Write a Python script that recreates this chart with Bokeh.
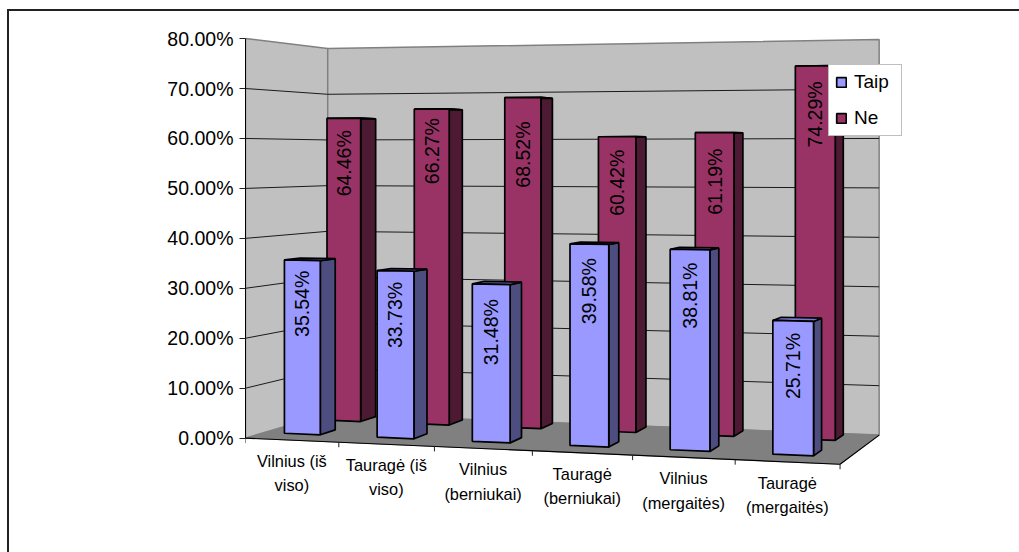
import numpy as np
from bokeh.plotting import figure
from bokeh.embed import file_html
from bokeh.resources import INLINE
from bokeh.core.properties import value
from bokeh.models import (FixedTicker, Legend, LegendItem,
                          LinearAxis, NumeralTickFormatter, Range1d)

# ---- data -------------------------------------------------------------
categories = ["Vilnius (iš\nviso)", "Tauragė (iš\nviso)", "Vilnius\n(berniukai)",
              "Tauragė\n(berniukai)", "Vilnius\n(mergaitės)", "Tauragė\n(mergaitės)"]
taip = [35.54, 33.73, 31.48, 39.58, 38.81, 25.71]
ne = [64.46, 66.27, 68.52, 60.42, 61.19, 74.29]
y_ticks = [0, 10, 20, 30, 40, 50, 60, 70, 80]
series_names = ["Taip", "Ne"]

FONT = "Liberation Sans"
N = len(categories)

# ---- 3D view: floor corners and height scales in page pixels -----------
FL, FR, BR, BL = (245, 436), (838, 462), (877, 433), (327, 412)
S_FL, S_FR, S_BR, S_BL = 4.975, 5.42, 4.925, 4.55
WARP_FRONT, WARP_DEPTH = 0.07, 0.047
PX_PER_PCT = 4.975
FRAME_L, FRAME_R, FRAME_T, FRAME_B = 245, 1011, 20, 530
PAGE_L, PAGE_T, PAGE_W, PAGE_H = 9, 11, 1010, 541
LABEL_DROP = {"Taip": [10.5, 11, 15, 14, 13, 12], "Ne": [12, 9, 24, 13, 16, 15.5]}


def to_y(py):
    return (FL[1] - py) / (PX_PER_PCT * 100)


def project(u, v, w):
    """category position u, depth v (0 front..1 back), percent w -> plot coords"""
    a0 = u / N
    a = a0 + (WARP_FRONT + WARP_DEPTH * v) * a0 * (a0 - 1)
    px = (1 - a) * (1 - v) * FL[0] + a * (1 - v) * FR[0] + a * v * BR[0] + (1 - a) * v * BL[0]
    py = (1 - a) * (1 - v) * FL[1] + a * (1 - v) * FR[1] + a * v * BR[1] + (1 - a) * v * BL[1]
    s = (1 - a) * (1 - v) * S_FL + a * (1 - v) * S_FR + a * v * S_BR + (1 - a) * v * S_BL
    return px, to_y(py - s * w)


p = figure(width=PAGE_W, height=PAGE_H, output_backend="svg", toolbar_location=None,
           x_range=Range1d(FRAME_L, FRAME_R),
           y_range=Range1d(to_y(FRAME_B), to_y(FRAME_T)),
           min_border_left=FRAME_L - PAGE_L, min_border_right=PAGE_L + PAGE_W - FRAME_R,
           min_border_top=FRAME_T - PAGE_T, min_border_bottom=PAGE_T + PAGE_H - FRAME_B,
           x_axis_location=None, y_axis_location=None, outline_line_color=None,
           background_fill_color="white", border_fill_color="white",
           styles={"position": "absolute", "left": f"{PAGE_L}px", "top": f"{PAGE_T}px",
                   "border-left": "2px solid #222222", "border-top": "2px solid #222222",
                   "box-sizing": "content-box", "margin-left": "-2px", "margin-top": "-2px"})
p.grid.visible = False

# ---- walls and floor ---------------------------------------------------
top = y_ticks[-1]


def poly(corners):
    pts = [project(*c) for c in corners]
    return [q[0] for q in pts], [q[1] for q in pts]


wall_l = poly([(0, 0, 0), (0, 1, 0), (0, 1, top), (0, 0, top)])
wall_b = poly([(0, 1, 0), (N, 1, 0), (N, 1, top), (0, 1, top)])
floor = poly([(0, 0, 0), (N, 0, 0), (N, 1, 0), (0, 1, 0)])
p.patches([wall_l[0], wall_b[0]], [wall_l[1], wall_b[1]], fill_color="#C0C0C0",
          line_color="#808080", line_width=1.5)
p.patch(floor[0], floor[1], fill_color="#808080", line_color="#808080", line_width=1)

# gridlines
gx, gy = [], []
for t in y_ticks[1:-1]:
    x, y = poly([(0, 0, t), (0, 1, t), (N, 1, t)])
    gx.append(x); gy.append(y)
p.multi_line(gx, gy, line_color="#1a1a1a", line_width=1)

# floor front and right edges, category ticks
ex, ey = poly([(0, 0, 0), (N, 0, 0), (N, 1, 0)])
p.line(ex, ey, line_color="black", line_width=1.2)
tx, ty = zip(*[project(i, 0, 0) for i in range(N + 1)])
TICK = 5 / (PX_PER_PCT * 100)
p.segment(tx, ty, tx, [v - TICK for v in ty], line_color="#222222", line_width=1)

# ---- bars ---------------------------------------------------------------
U0, U1 = 0.31, 0.70
BASE = 0.6  # bars stand slightly above the floor plane of the projection
ROWS = {"Taip": (0.13, 0.33), "Ne": (0.67, 0.87)}
COLORS = {"Taip": ("#9999FF", "#4D4D80", "#7A7ACC"), "Ne": ("#993366", "#4D1A33", "#7A2952")}
front_renderers = {}

for name, vals in (("Ne", ne), ("Taip", taip)):
    v0, v1 = ROWS[name]
    cf, cs, ct = COLORS[name]
    fx, fy, sx, sy, tx_, ty_, lxs, lys, lts = [], [], [], [], [], [], [], [], []
    for i, w in enumerate(vals):
        a, b = i + U0, i + U1
        x, y = poly([(a, v0, BASE), (b, v0, BASE), (b, v0, w), (a, v0, w)]); fx.append(x); fy.append(y)
        x, y = poly([(b, v0, BASE), (b, v1, BASE), (b, v1, w), (b, v0, w)]); sx.append(x); sy.append(y)
        x, y = poly([(a, v0, w), (b, v0, w), (b, v1, w), (a, v1, w)]); tx_.append(x); ty_.append(y)
        lx, ly = project((a + b) / 2, v0, w)
        lxs.append(lx); lys.append(ly); lts.append(f"{w:.2f}%")
    p.patches(sx, sy, fill_color=cs, line_color="black", line_width=1.7)
    p.patches(tx_, ty_, fill_color=ct, line_color="black", line_width=1.7)
    front_renderers[name] = p.patches(fx, fy, fill_color=cf, line_color="black", line_width=1.7)
    p.text(lxs, lys, text=lts,
           angle=np.pi / 2, text_align="right", text_baseline="middle", y_offset=LABEL_DROP[name],
           text_font=value(FONT), text_font_size="19.5px", text_color="black")

# ---- category labels ----------------------------------------------------
cx, cy = zip(*[project(i + 0.5, 0, 0) for i in range(N)])
p.text(cx, cy, text=categories, text_align="center", text_baseline="middle", y_offset=33,
       text_font=value(FONT), text_font_size="16.4px", text_color="black", text_line_height=1.35)

# ---- value axis ----------------------------------------------------------
yaxis = LinearAxis(ticker=FixedTicker(ticks=[t / 100 for t in y_ticks]),
                   formatter=NumeralTickFormatter(format="0.00%"),
                   bounds=(0, top / 100))
yaxis.major_label_text_font = FONT
yaxis.major_label_text_font_size = "19.5px"
yaxis.major_label_text_color = "black"
yaxis.major_label_standoff = 6
yaxis.major_tick_out = 6
yaxis.major_tick_in = 0
yaxis.minor_tick_line_color = None
yaxis.axis_line_color = "black"
yaxis.major_tick_line_color = "#222222"
p.add_layout(yaxis, "left")

# ---- legend --------------------------------------------------------------
legend = Legend(items=[LegendItem(label=n, renderers=[front_renderers[n]]) for n in series_names],
                location=(583, 396), orientation="vertical",
                label_text_font=FONT, label_text_font_size="19px", label_text_color="black",
                glyph_width=12, glyph_height=12, label_standoff=7, spacing=14, padding=6,
                label_width=41, label_height=21,
                margin=0, border_line_color="#808080", border_line_width=1.5,
                background_fill_color="white", background_fill_alpha=1)
p.add_layout(legend, "center")

open("out.html", "w").write(file_html(p, INLINE))
